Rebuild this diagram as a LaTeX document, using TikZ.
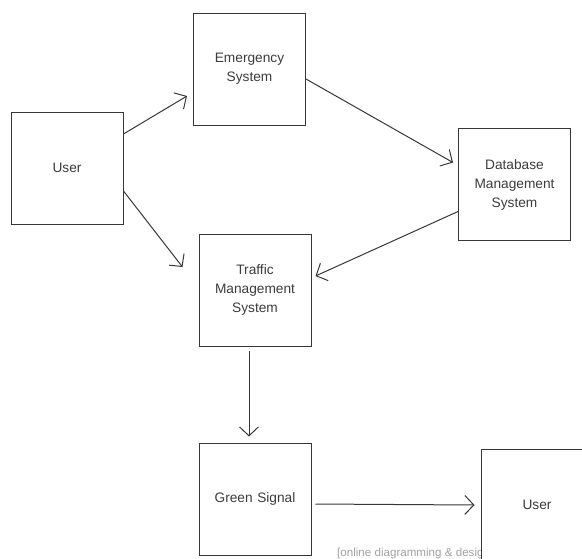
\documentclass[tikz,border=0pt]{standalone}
\usepackage{fontspec}
\setmainfont{Liberation Sans}
\definecolor{linegray}{RGB}{55, 55, 55}
\definecolor{textgray}{RGB}{60, 60, 60}
\definecolor{markgray}{RGB}{160, 160, 160}
\usetikzlibrary{arrows.meta}

\begin{document}
\begin{tikzpicture}[x=1pt, y=-1pt,
    block/.style={draw=linegray, fill=white, line width=1pt, minimum size=112pt, inner sep=0pt,
      text width=100pt, align=center, text=textgray, font=\fontsize{13.7}{19}\selectfont},
    flow/.style={draw=linegray, line width=1pt, -{Straight Barb[length=9pt, width=19pt]}}]
  \useasboundingbox (0,0) rectangle (582,558);
  \clip (0,0) rectangle (582,558);
  % Blocks
  \node[block] (user) at (67, 168) {User};
  \node[block] (emerg) at (249.5, 69) {Emergency\\System};
  \node[block] (dbms) at (514.5, 184.5) {Database\\Management\\System};
  \node[block] (traffic) at (255, 290) {Traffic\\Management\\System};
  \node[block] (green) at (255, 499) {Green Signal};
  % Watermark, partly under the last block
  \node[anchor=west, inner sep=0pt, text=markgray, font=\fontsize{11.6}{13}\selectfont] (mark) at (337, 553) {[online diagramming \& design]};
  \node[block] (user2) at (537, 505) {User};
  % Connectors
  \draw[flow] ([yshift=34pt]user.east) -- ([xshift=-6pt, yshift=-27pt]emerg.west);
  \draw[flow] ([yshift=-23pt]user.east) -- ([xshift=-16pt, yshift=23pt]traffic.west);
  \draw[flow] ([yshift=-10pt]emerg.east) -- ([xshift=-5pt, yshift=22pt]dbms.west);
  \draw[flow] ([yshift=-27pt]dbms.west) -- ([xshift=4pt, yshift=14pt]traffic.east);
  \draw[flow] ([xshift=-6pt, yshift=-4pt]traffic.south) -- ([xshift=-6pt, yshift=6pt]green.north);
  \draw[flow] ([xshift=4pt, yshift=-5pt]green.east) -- ([xshift=-6pt]user2.west);
\end{tikzpicture}
\end{document}
